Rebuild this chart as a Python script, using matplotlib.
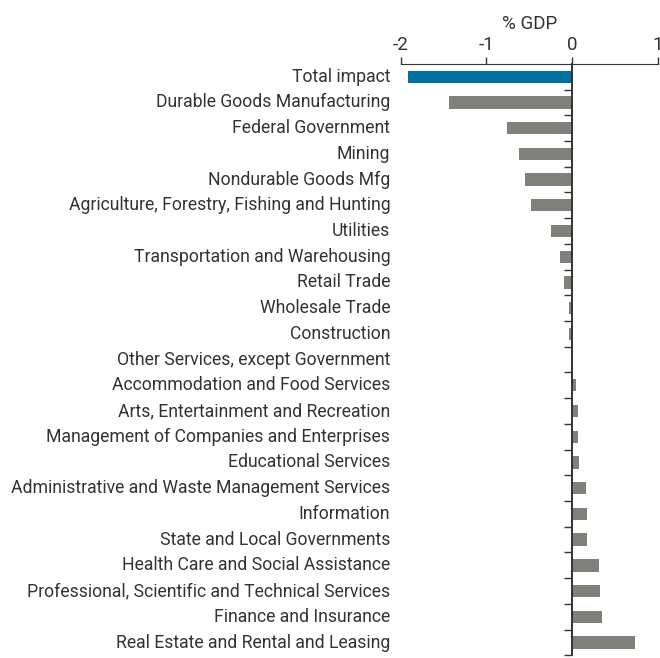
import numpy as np
import matplotlib.pyplot as plt
from matplotlib.ticker import FixedLocator

sectors = [
    "Total impact",
    "Durable Goods Manufacturing",
    "Federal Government",
    "Mining",
    "Nondurable Goods Mfg",
    "Agriculture, Forestry, Fishing and Hunting",
    "Utilities",
    "Transportation and Warehousing",
    "Retail Trade",
    "Wholesale Trade",
    "Construction",
    "Other Services, except Government",
    "Accommodation and Food Services",
    "Arts, Entertainment and Recreation",
    "Management of Companies and Enterprises",
    "Educational Services",
    "Administrative and Waste Management Services",
    "Information",
    "State and Local Governments",
    "Health Care and Social Assistance",
    "Professional, Scientific and Technical Services",
    "Finance and Insurance",
    "Real Estate and Rental and Leasing",
]
impact = [-1.91, -1.43, -0.755, -0.62, -0.55, -0.48, -0.24, -0.14, -0.09,
          -0.04, -0.035, -0.008, 0.05, 0.066, 0.068, 0.085, 0.16, 0.17,
          0.17, 0.32, 0.33, 0.355, 0.74]
xticks = [-2, -1, 0, 1]

plt.rcParams['font.family'] = ['Roboto', 'DejaVu Sans']
txt = '#333333'

fig = plt.figure(figsize=(6.6, 6.58), dpi=100)
ax = fig.add_axes([0.607, 0.004, 0.3895, 0.899])

y = np.arange(len(sectors))
colors = ['#0070a0'] + ['#7f817a'] * (len(sectors) - 1)
ax.barh(y, impact, height=0.48, color=colors)

ax.set_xlim(-2, 1)
ax.set_ylim(len(sectors) - 0.5, -0.5)

# top x axis
ax.xaxis.tick_top()
ax.xaxis.set_label_position('top')
ax.set_xticks(xticks)
ax.set_xticklabels([str(v) for v in xticks])
ax.set_xlabel('% GDP', fontsize=13.5, color=txt, labelpad=5)
ax.tick_params(axis='x', direction='out', length=5, width=1, colors=txt,
               labelsize=13.5, pad=2, labelcolor=txt)

# zero spine with ticks at row boundaries
ax.spines['left'].set_position(('data', 0))
ax.spines['left'].set_linewidth(1.4)
ax.spines['left'].set_color('#333333')
ax.spines['top'].set_color('#333333')
ax.spines['right'].set_visible(False)
ax.spines['bottom'].set_visible(False)
ax.set_yticks([])
ax.yaxis.set_minor_locator(FixedLocator(y + 0.5))
ax.tick_params(axis='y', which='minor', direction='out', length=6,
               width=1, colors='#333333')

for yi, name in zip(y, sectors):
    ax.text(-0.04, yi, name, transform=ax.get_yaxis_transform(),
            ha='right', va='center', fontsize=12.7, color=txt)

fig.savefig('out.png', dpi=100)
